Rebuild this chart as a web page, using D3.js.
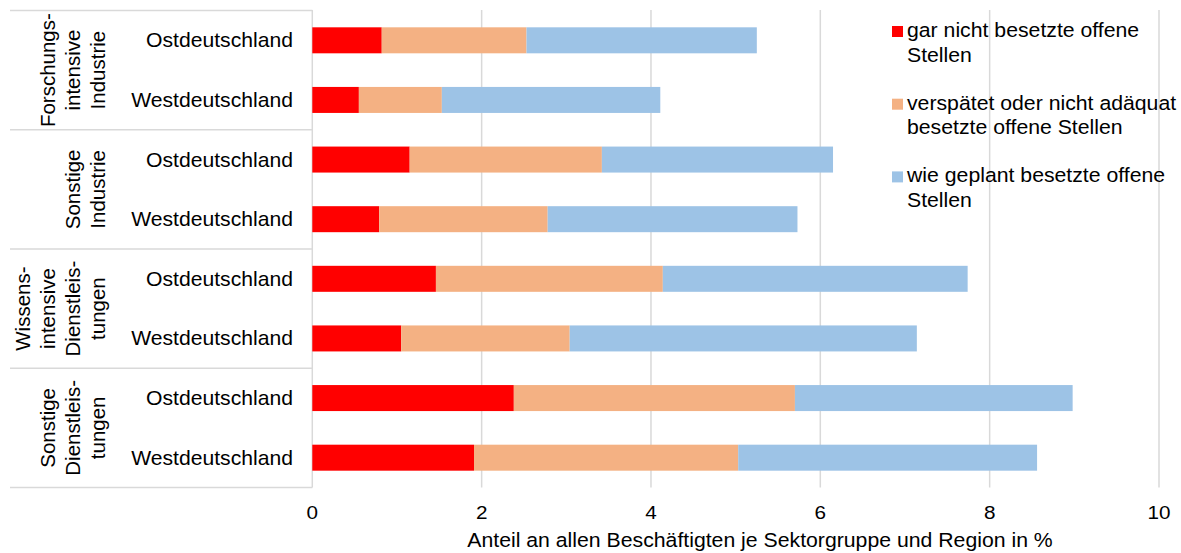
<!DOCTYPE html>
<html><head><meta charset="utf-8">
<script src="https://cdn.jsdelivr.net/npm/d3@7"></script>
<style>body{margin:0;background:#fff}svg{display:block}text{font-family:"Liberation Sans",Arial,sans-serif;fill:#000}</style>
</head><body><svg id="c" width="1181" height="553"></svg>
<script>
const regions = ["Ostdeutschland","Westdeutschland","Ostdeutschland","Westdeutschland","Ostdeutschland","Westdeutschland","Ostdeutschland","Westdeutschland"];
const groups = [["Forschungs-","intensive","Industrie"],["Sonstige","Industrie"],["Wissens-","intensive","Dienstleis-","tungen"],["Sonstige","Dienstleis-","tungen"]];
const seriesNames = [["gar nicht besetzte offene","Stellen"],["verspätet oder nicht adäquat","besetzte offene Stellen"],["wie geplant besetzte offene","Stellen"]];
const nichtBesetzt = [0.82,0.55,1.15,0.79,1.46,1.05,2.38,1.91];
const verspaetet   = [1.71,0.98,2.27,1.99,2.68,1.99,3.32,3.12];
const wieGeplant   = [2.72,2.58,2.73,2.95,3.60,4.10,3.28,3.53];
const xTicks = [0,2,4,6,8,10];
const colors = ["#ff0000","#f4b183","#9dc3e6"];

const svg = d3.select("#c");
const x = d3.scaleLinear().domain([0,10]).range([312.3,1159]);
const y = d3.scaleBand().domain(d3.range(8)).range([10.5,487.5]).paddingInner(0.564).paddingOuter(0.282);
const grid = "#d9d9d9";
const sx = 1.09; // horizontal text stretch seen in the reference

// gridlines
svg.append("g").selectAll("line").data(xTicks).join("line")
  .attr("x1",d=>x(d)).attr("x2",d=>x(d)).attr("y1",10).attr("y2",487.5)
  .attr("stroke",grid).attr("stroke-width",1.5);

// group separators
const step = y.step();
const bounds = d3.range(5).map(k => 10.5 + k*2*step);
svg.append("g").selectAll("line").data(bounds).join("line")
  .attr("x1",10).attr("x2",312.3).attr("y1",d=>d).attr("y2",d=>d)
  .attr("stroke",grid).attr("stroke-width",1.5);

// stacked bars
const rows = d3.range(8).map(i => ({i, a:nichtBesetzt[i], b:verspaetet[i], c:wieGeplant[i]}));
const stack = d3.stack().keys(["a","b","c"])(rows);
svg.append("g").selectAll("g").data(stack).join("g").attr("fill",(d,k)=>colors[k])
  .selectAll("rect").data(d=>d).join("rect")
  .attr("x",d=>x(d[0])).attr("width",d=>x(d[1])-x(d[0]))
  .attr("y",d=>y(d.data.i)).attr("height",y.bandwidth());

// x axis labels
svg.append("g").selectAll("text").data(xTicks).join("text")
  .attr("transform",d=>`translate(${x(d)},519) scale(${sx},1)`)
  .attr("text-anchor","middle").attr("font-size",19).text(d=>d);
svg.append("text").attr("transform",`translate(760,547) scale(${sx},1)`).attr("text-anchor","middle").attr("font-size",19.5)
  .text("Anteil an allen Beschäftigten je Sektorgruppe und Region in %");

// region labels
svg.append("g").selectAll("text").data(regions).join("text")
  .attr("transform",(d,i)=>`translate(293,${y(i)+y.bandwidth()/2}) scale(${sx*0.97},1)`).attr("dy","0.35em")
  .attr("text-anchor","end").attr("font-size",20).text(d=>d);

// group labels
groups.forEach((lines,g)=>{
  const cy = 10.5 + (2*g+1)*step;
  lines.forEach((t,j)=>{
    const cx = 98 - 25*(lines.length-1-j);
    svg.append("text").attr("transform",`translate(${cx},${cy}) rotate(-90)`)
      .attr("text-anchor","middle").attr("dy","0.35em").attr("font-size",20.5).text(t);
  });
});

// legend
const lg = svg.append("g");
seriesNames.forEach((lines,k)=>{
  const top = 26 + k*72.7;
  lg.append("rect").attr("x",892).attr("y",top).attr("width",11).attr("height",11).attr("fill",colors[k]);
  lines.forEach((t,j)=>{
    lg.append("text").attr("transform",`translate(907,${top+11+j*24.5}) scale(${sx},1)`).attr("font-size",19.5).text(t);
  });
});
</script></body></html>
